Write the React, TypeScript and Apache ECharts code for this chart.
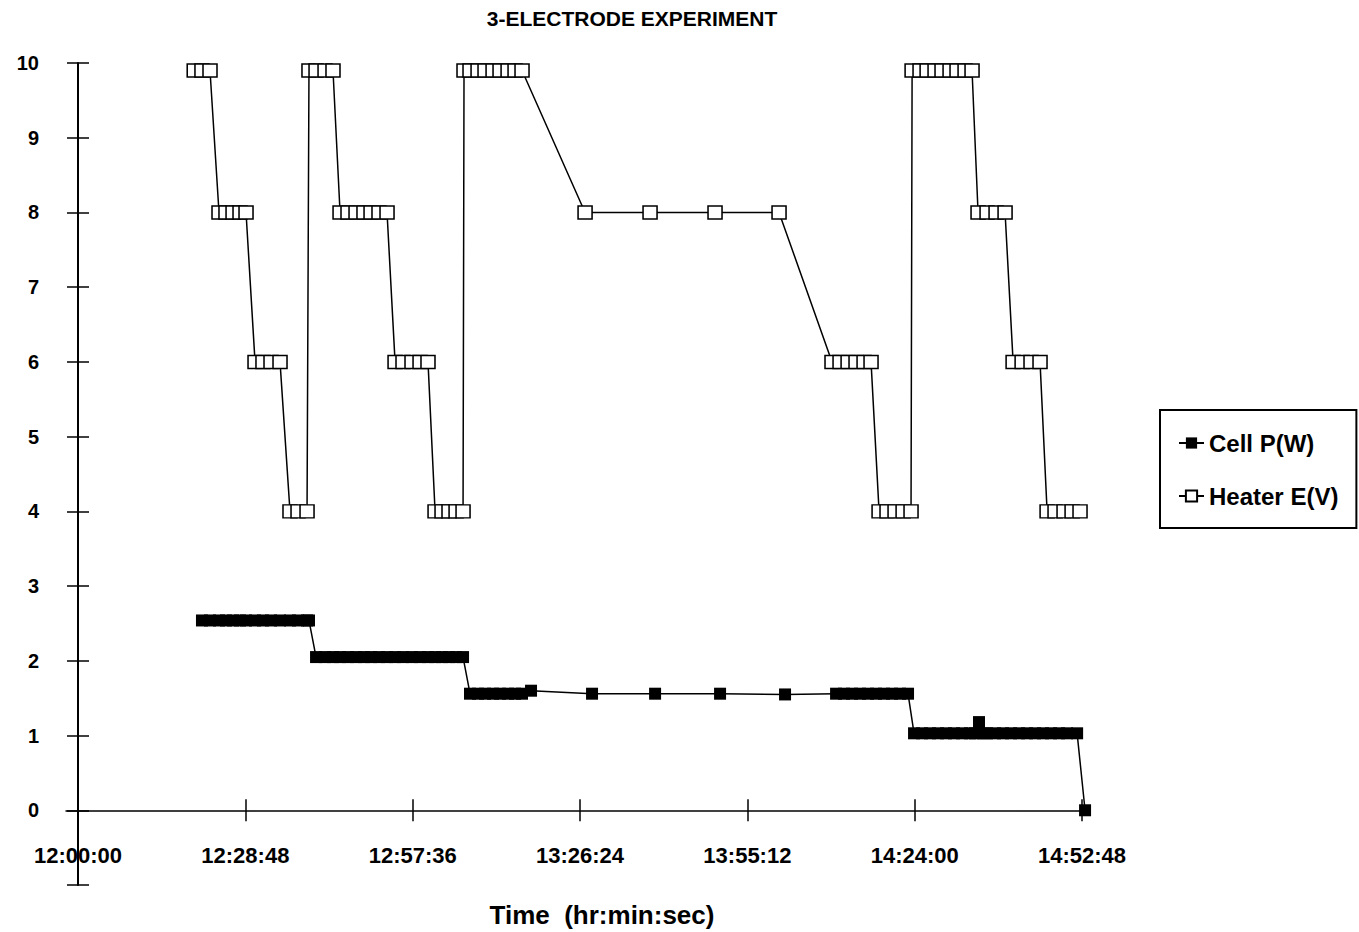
import React, { useEffect, useRef } from 'react';
import * as echarts from 'echarts';

const chartTitle = '3-ELECTRODE EXPERIMENT';
const xAxisTitle = 'Time  (hr:min:sec)';
const seriesNames = ['Cell P(W)', 'Heater E(V)'];

const xTickLabels = ['12:00:00', '12:28:48', '12:57:36', '13:26:24', '13:55:12', '14:24:00', '14:52:48'];

const heaterTimes = [
  '12:20:00', '12:21:20', '12:22:43',
  '12:24:16', '12:25:28', '12:26:41', '12:27:53', '12:28:55',
  '12:30:28', '12:31:50', '12:33:13', '12:34:46',
  '12:36:29', '12:37:52', '12:39:25',
  '12:39:45', '12:40:58', '12:42:31', '12:43:53',
  '12:45:06', '12:46:28', '12:47:51', '12:49:13', '12:50:26', '12:51:48', '12:53:11',
  '12:54:34', '12:55:56', '12:57:29', '12:58:52', '13:00:14',
  '13:01:27', '13:02:39', '13:03:51', '13:05:04', '13:06:16',
  '13:06:26', '13:07:28', '13:08:51', '13:10:03', '13:11:26', '13:12:38', '13:14:01', '13:15:13', '13:16:25',
  '13:27:16', '13:38:27', '13:49:38', '14:00:39',
  '14:09:46', '14:11:09', '14:12:32', '14:13:54', '14:15:17', '14:16:29',
  '14:17:52', '14:19:14', '14:20:37', '14:22:00', '14:23:22',
  '14:23:33', '14:24:55', '14:26:08', '14:27:30', '14:28:42', '14:30:05', '14:31:17', '14:32:40', '14:33:52',
  '14:34:54', '14:36:27', '14:38:00', '14:39:33',
  '14:40:56', '14:42:29', '14:44:01', '14:45:34',
  '14:46:47', '14:48:09', '14:49:42', '14:51:05', '14:52:27',
];
const heaterVolts = [
  9.9, 9.9, 9.9,
  8, 8, 8, 8, 8,
  6, 6, 6, 6,
  4, 4, 4,
  9.9, 9.9, 9.9, 9.9,
  8, 8, 8, 8, 8, 8, 8,
  6, 6, 6, 6, 6,
  4, 4, 4, 4, 4,
  9.9, 9.9, 9.9, 9.9, 9.9, 9.9, 9.9, 9.9, 9.9,
  8, 8, 8, 8,
  6, 6, 6, 6, 6, 6,
  4, 4, 4, 4, 4,
  9.9, 9.9, 9.9, 9.9, 9.9, 9.9, 9.9, 9.9, 9.9,
  8, 8, 8, 8,
  6, 6, 6, 6,
  4, 4, 4, 4, 4,
];

const cellTimes = [
  '12:21:20', '12:22:43', '12:24:16', '12:25:28', '12:26:41', '12:27:53', '12:28:55', '12:30:28',
  '12:31:50', '12:33:13', '12:34:46', '12:36:29', '12:37:52', '12:39:25', '12:39:45',
  '12:40:58', '12:42:31', '12:43:53', '12:45:06', '12:46:28', '12:47:51', '12:49:13', '12:50:26',
  '12:51:48', '12:53:11', '12:54:34', '12:55:56', '12:57:29', '12:58:52', '13:00:14', '13:01:27',
  '13:02:39', '13:03:51', '13:05:04', '13:06:16',
  '13:07:28', '13:08:51', '13:10:03', '13:11:26', '13:12:38', '13:14:01', '13:15:13', '13:16:25', '13:17:58',
  '13:28:28', '13:39:19', '13:50:30', '14:01:41',
  '14:10:28', '14:11:50', '14:13:13', '14:14:36', '14:15:58', '14:17:21', '14:18:43', '14:20:06', '14:21:29', '14:22:51',
  '14:23:53', '14:25:16', '14:26:38', '14:28:01', '14:29:24', '14:30:46', '14:32:09', '14:33:32',
  '14:34:23', '14:35:04', '14:35:46',
  '14:36:27', '14:37:50', '14:39:12', '14:40:35', '14:41:58', '14:43:20', '14:44:43', '14:46:05', '14:47:28',
  '14:48:51', '14:50:13', '14:51:57',
  '14:53:19',
];
const cellWatts = [
  2.54, 2.54, 2.54, 2.54, 2.54, 2.54, 2.54, 2.54,
  2.54, 2.54, 2.54, 2.54, 2.54, 2.54, 2.54,
  2.05, 2.05, 2.05, 2.05, 2.05, 2.05, 2.05, 2.05,
  2.05, 2.05, 2.05, 2.05, 2.05, 2.05, 2.05, 2.05,
  2.05, 2.05, 2.05, 2.05,
  1.56, 1.56, 1.56, 1.56, 1.56, 1.56, 1.56, 1.56, 1.6,
  1.56, 1.56, 1.56, 1.55,
  1.56, 1.56, 1.56, 1.56, 1.56, 1.56, 1.56, 1.56, 1.56, 1.56,
  1.03, 1.03, 1.03, 1.03, 1.03, 1.03, 1.03, 1.03,
  1.03, 1.18, 1.03,
  1.03, 1.03, 1.03, 1.03, 1.03, 1.03, 1.03, 1.03, 1.03,
  1.03, 1.03, 1.03,
  0,
];

const toSec = (t: string) => {
  const [h, m, s] = t.split(':').map(Number);
  return (h - 12) * 3600 + m * 60 + s;
};
const pad = (n: number) => (n < 10 ? '0' + n : String(n));
const fmtTime = (v: number) => {
  const tot = Math.round(v) + 12 * 3600;
  const h = Math.floor(tot / 3600);
  const m = Math.floor((tot % 3600) / 60);
  const s = tot % 60;
  return `${pad(h)}:${pad(m)}:${pad(s)}`;
};

export default function App() {
  const ref = useRef<HTMLDivElement>(null);
  useEffect(() => {
    if (!ref.current) return;
    const chart = echarts.init(ref.current, null, { renderer: 'svg' });
    const font = "'Liberation Sans', Arial, Helvetica, sans-serif";
    const xTicks = xTickLabels.map(toSec);
    const heaterData = heaterTimes.map((t, i) => [toSec(t), heaterVolts[i]]);
    const cellData = cellTimes.map((t, i) => [toSec(t), cellWatts[i]]);
    const xMin = -124;
    const xMax = 10450;
    const black = { color: '#000', width: 1.5 };

    chart.setOption({
      animation: false,
      backgroundColor: '#fff',
      grid: {
        left: 66,
        right: 269,
        top: 63,
        bottom: 47,
        containLabel: false,
        outerBoundsMode: 'none',
      },
      graphic: [
        {
          type: 'text',
          x: 632,
          y: 18,
          style: {
            text: chartTitle,
            fill: '#000',
            font: `bold 21px ${font}`,
            textAlign: 'center',
            textVerticalAlign: 'middle',
          },
        },
      ],
      legend: {
        orient: 'vertical',
        left: 1160,
        top: 410,
        padding: [21, 18, 20, 18],
        itemGap: 29,
        itemWidth: 25,
        itemHeight: 14,
        borderColor: '#000',
        borderWidth: 2,
        borderRadius: 0,
        backgroundColor: '#fff',
        textStyle: { fontSize: 24, fontWeight: 'bold', color: '#000', fontFamily: font },
        data: seriesNames,
      },
      xAxis: [
        {
          type: 'value',
          min: xMin,
          max: xMax,
          position: 'bottom',
          splitLine: { show: false },
          axisLine: { onZero: true, lineStyle: black },
          axisTick: { customValues: xTicks, length: 11, lineStyle: black },
          axisLabel: {
            customValues: xTicks,
            formatter: (v: number) => fmtTime(v),
            margin: -41,
            fontSize: 22,
            fontWeight: 'bold',
            color: '#000',
            fontFamily: font,
          },
          name: xAxisTitle,
          nameLocation: 'middle',
          nameGap: 17,
          nameTextStyle: {
            fontSize: 26,
            fontWeight: 'bold',
            color: '#000',
            fontFamily: font,
            padding: [0, 0, 0, 48],
          },
        },
        {
          type: 'value',
          min: xMin,
          max: xMax,
          position: 'top',
          splitLine: { show: false },
          axisLine: { onZero: true, show: false },
          axisTick: { customValues: xTicks, length: 11, lineStyle: black },
          axisLabel: { show: false },
        },
      ],
      yAxis: [
        {
          type: 'value',
          min: -1,
          max: 10,
          interval: 1,
          position: 'left',
          splitLine: { show: false },
          axisLine: { onZero: true, lineStyle: { color: '#000', width: 2 } },
          axisTick: { length: 11, lineStyle: black },
          axisLabel: {
            formatter: (v: number) => (v < 0 ? '' : String(v)),
            margin: 27,
            fontSize: 20,
            fontWeight: 'bold',
            color: '#000',
            fontFamily: font,
          },
        },
        {
          type: 'value',
          min: -1,
          max: 10,
          interval: 1,
          position: 'right',
          splitLine: { show: false },
          axisLine: { onZero: true, show: false },
          axisTick: { length: 11, lineStyle: black },
          axisLabel: { show: false },
        },
      ],
      series: [
        {
          name: seriesNames[0],
          type: 'line',
          xAxisIndex: 0,
          yAxisIndex: 0,
          data: cellData,
          symbol: 'rect',
          symbolSize: [12, 12],
          showAllSymbol: true,
          itemStyle: { color: '#000', borderColor: '#000', borderWidth: 0 },
          lineStyle: { color: '#000', width: 1.5 },
          z: 2,
        },
        {
          name: seriesNames[1],
          type: 'line',
          xAxisIndex: 0,
          yAxisIndex: 0,
          data: heaterData,
          symbol: 'rect',
          symbolSize: [14, 13],
          showAllSymbol: true,
          itemStyle: { color: '#fff', borderColor: '#000', borderWidth: 1.5 },
          lineStyle: { color: '#000', width: 1.5 },
          z: 3,
        },
      ],
    });
    return () => chart.dispose();
  }, []);
  return (
    <div
      ref={ref}
      style={{ position: 'fixed', left: 0, top: 0, width: 1359, height: 932, background: '#fff' }}
    />
  );
}
